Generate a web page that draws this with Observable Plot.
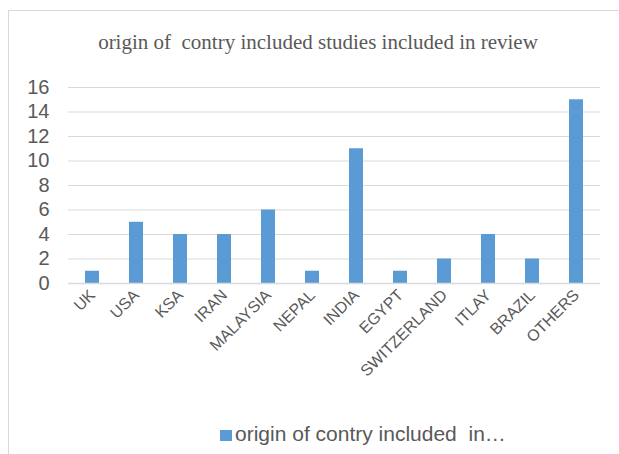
<!DOCTYPE html>
<html>
<head>
<meta charset="utf-8">
<script src="https://cdn.jsdelivr.net/npm/d3@7"></script>
<script src="https://cdn.jsdelivr.net/npm/@observablehq/plot@0.6"></script>
<style>
  html, body { margin: 0; padding: 0; background: #fff; }
  #wrap { position: relative; width: 619px; height: 454px; overflow: hidden; }
  #frame { position: absolute; left: 8px; top: 10px; width: 640px; height: 470px; border: 1px solid #d9d9d9; box-sizing: border-box; }
  #title { position: absolute; left: 0; width: 636px; top: 30px; text-align: center; font-family: "Liberation Serif", serif; font-size: 21px; color: #595959; white-space: pre; }
  #chart { position: absolute; left: 0; top: 0; }
  #legend { position: absolute; left: 220px; top: 422px; font-family: "Liberation Sans", Arial, sans-serif; font-size: 21px; color: #595959; white-space: pre; }
  #legend .sw { display: inline-block; width: 12px; height: 11px; background: #5b9bd5; margin-right: 3px; vertical-align: 0px; }
</style>
</head>
<body>
<div id="wrap">
  <div id="frame"></div>
  <div id="chart"></div>
  <div id="title">origin of  contry included studies included in review</div>
  <div id="legend"><span class="sw"></span>origin of contry included  in…</div>
</div>
<script>
const countries = ["UK","USA","KSA","IRAN","MALAYSIA","NEPAL","INDIA","EGYPT","SWITZERLAND","ITLAY","BRAZIL","OTHERS"];
const counts = [1,5,4,4,6,1,11,1,2,4,2,15];
const yTicks = [0,2,4,6,8,10,12,14,16];

const data = countries.map((c, i) => ({country: c, count: counts[i]}));

const chart = Plot.plot({
  width: 619,
  height: 410,
  marginTop: 87,
  marginBottom: 127,
  marginLeft: 68,
  marginRight: 19,
  style: {fontFamily: "'Liberation Sans', Arial, sans-serif", color: "#595959", background: "transparent"},
  x: {domain: countries, paddingInner: 0.68, paddingOuter: 0.34, label: null},
  y: {domain: [0, 16], label: null},
  marks: [
    Plot.gridY(yTicks, {stroke: "#d9d9d9", strokeOpacity: 1, strokeWidth: 1}),
    Plot.axisY(yTicks, {tickSize: 0, tickPadding: 19, fontSize: 20, fill: "#595959", label: null}),
    Plot.axisX({tickSize: 0, tickPadding: 9, tickRotate: -45, fontSize: 16, fill: "#595959", label: null}),
    Plot.barY(data, {x: "country", y: "count", fill: "#5b9bd5"}),
    Plot.ruleY([0], {stroke: "#d9d9d9", strokeWidth: 1.5})
  ]
});
document.getElementById("chart").appendChild(chart);
</script>
</body>
</html>
